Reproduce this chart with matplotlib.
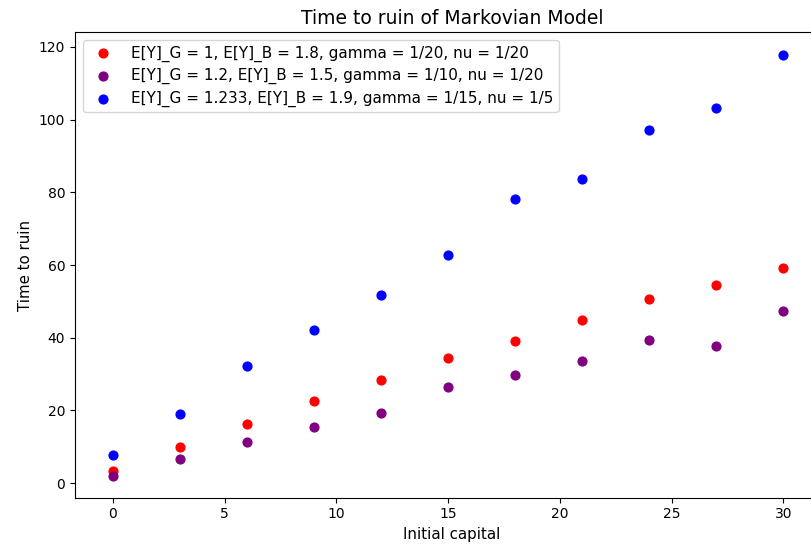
import numpy as np
import matplotlib.pyplot as plt

# Temps de ruine moyen selon le capital initial, pour trois jeux de parametres

capital = np.arange(0, 31, 3)

ruin_a = [3.3, 10.0, 16.4, 22.7, 28.5, 34.5, 39.0, 45.0, 50.7, 54.6, 59.2]
ruin_b = [1.9, 6.6, 11.2, 15.5, 19.2, 26.4, 29.8, 33.6, 39.3, 37.8, 47.3]
ruin_c = [7.8, 18.9, 32.1, 42.1, 51.8, 62.9, 78.3, 83.6, 97.1, 103.2, 117.7]

label_a = "E[Y]_G = 1, E[Y]_B = 1.8, gamma = 1/20, nu = 1/20"
label_b = "E[Y]_G = 1.2, E[Y]_B = 1.5, gamma = 1/10, nu = 1/20"
label_c = "E[Y]_G = 1.233, E[Y]_B = 1.9, gamma = 1/15, nu = 1/5"

fig = plt.figure(figsize=(8.11, 5.5), dpi=100)
# l'axe depasse un peu a droite, le bord droit n'est pas visible
ax = fig.add_axes([0.0925, 0.0951, 0.93, 0.846])

ax.scatter(capital, ruin_a, color="red", s=40, label=label_a)
ax.scatter(capital, ruin_b, color="purple", s=40, label=label_b)
ax.scatter(capital, ruin_c, color="blue", s=40, label=label_c)

ax.set_xlim(-1.69, 32.05)
ax.set_ylim(-4, 124)
ax.set_title("Time to ruin of Markovian Model", fontsize=13.5)
ax.set_xlabel("Initial capital", fontsize=10.8)
ax.set_ylabel("Time to ruin", fontsize=10.8)
ax.legend(loc="upper left", fontsize=11, borderpad=0.35, labelspacing=0.42)

fig.savefig("out.png", dpi=100)
